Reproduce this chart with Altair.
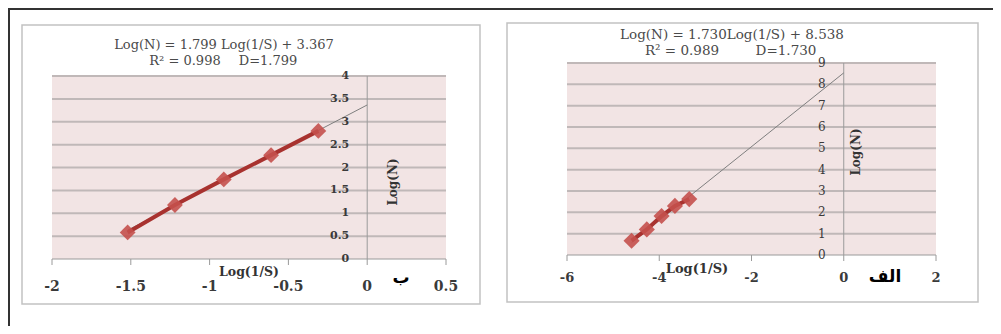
import altair as alt
import pandas as pd

# ---------------- panel "ب" (left) ----------------
b_logS = [-1.52, -1.22, -0.91, -0.61, -0.31]
b_logN = [0.58, 1.18, 1.74, 2.27, 2.80]
b_fit_x = [-1.52, 0.0]
b_fit_y = [0.63, 3.367]
b_xticks = [-2, -1.5, -1, -0.5, 0, 0.5]
b_xlabels = ["-2", "-1.5", "-1", "-0.5", "0", "0.5"]
b_yticks = [0, 0.5, 1, 1.5, 2, 2.5, 3, 3.5, 4]
b_ylabels = ["0", "0.5", "1", "1.5", "2", "2.5", "3", "3.5", "4"]
b_eq = "Log(N) = 1.799 Log(1/S) + 3.367"
b_r2 = "R² = 0.998"
b_d = "D=1.799"
b_tag = "ب"

# ---------------- panel "الف" (right) ----------------
a_logS = [-4.60, -4.27, -3.95, -3.66, -3.35]
a_logN = [0.67, 1.20, 1.83, 2.30, 2.62]
a_fit_x = [-4.60, 0.0]
a_fit_y = [0.58, 8.538]
a_xticks = [-6, -4, -2, 0, 2]
a_xlabels = ["-6", "-4", "-2", "0", "2"]
a_yticks = [0, 1, 2, 3, 4, 5, 6, 7, 8, 9]
a_ylabels = ["0", "1", "2", "3", "4", "5", "6", "7", "8", "9"]
a_eq = "Log(N) = 1.730Log(1/S) + 8.538"
a_r2 = "R² = 0.989"
a_d = "D=1.730"
a_tag = "الف"

SERIF = "DejaVu Serif"
PINK = "#f2e4e4"
GRID = "#c0b8b8"
AXIS = "#9a9a9a"
LINE_RED = "#a8322f"
MARK_RED = "#c4504d"
TXT = "#4a4a4a"

one = pd.DataFrame({"k": [0]})


def panel(xs, ys, fx, fy, xticks, xlabels, yticks, ylabels, eq, r2, d, tag, L):
    xsc = alt.Scale(domain=[xticks[0], xticks[-1]], range=L["xr"], nice=False, zero=False)
    ysc = alt.Scale(domain=[yticks[0], yticks[-1]], range=L["yr"], nice=False, zero=False)

    def X(f):
        return alt.X(f, type="quantitative", scale=xsc, axis=None)

    def Y(f):
        return alt.Y(f, type="quantitative", scale=ysc, axis=None)

    layers = []
    # outer gray box
    layers.append(
        alt.Chart(one).mark_rect(fill="white", stroke="#c2c2c2", strokeWidth=1.5).encode(
            x=alt.value(L["box"][0]), x2=alt.value(L["box"][2]),
            y=alt.value(L["box"][1]), y2=alt.value(L["box"][3]))
    )
    # plot background
    bg = pd.DataFrame({"x0": [xticks[0]], "x1": [xticks[-1]], "y0": [yticks[0]], "y1": [yticks[-1]]})
    layers.append(
        alt.Chart(bg).mark_rect(fill=PINK).encode(
            x=X("x0"), x2=alt.X2("x1"), y=Y("y0"), y2=alt.Y2("y1"))
    )
    # horizontal gridlines
    gd = pd.DataFrame({"y": yticks[1:]})
    gd["x0"] = xticks[0]
    gd["x1"] = xticks[-1]
    layers.append(
        alt.Chart(gd).mark_rule(color=GRID, strokeWidth=2).encode(
            x=X("x0"), x2=alt.X2("x1"), y=Y("y"))
    )
    # x axis line (y = 0)
    layers.append(
        alt.Chart(bg).mark_rule(color=AXIS, strokeWidth=1).encode(
            x=X("x0"), x2=alt.X2("x1"), y=Y("y0"))
    )
    # y axis line (x = 0)
    ya = pd.DataFrame({"x": [0.0], "y0": [yticks[0]], "y1": [yticks[-1]]})
    layers.append(
        alt.Chart(ya).mark_rule(color=AXIS, strokeWidth=1).encode(
            x=X("x"), y=Y("y0"), y2=alt.Y2("y1"))
    )
    # x tick marks
    xt = pd.DataFrame({"x": xticks, "lab": xlabels})
    xt["y"] = 0.0
    layers.append(
        alt.Chart(xt).mark_rule(color=AXIS, strokeWidth=1, y2Offset=6).encode(
            x=X("x"), y=Y("y"), y2=alt.Y2("y"))
    )
    # trend line
    tr = pd.DataFrame({"x": fx, "y": fy})
    layers.append(
        alt.Chart(tr).mark_line(color="#7f7f7f", strokeWidth=1).encode(x=X("x"), y=Y("y"))
    )
    # data line + markers
    dd = pd.DataFrame({"x": xs, "y": ys})
    layers.append(
        alt.Chart(dd).mark_line(color=LINE_RED, strokeWidth=4).encode(x=X("x"), y=Y("y"))
    )
    layers.append(
        alt.Chart(dd).mark_point(shape="diamond", filled=True, size=L["msize"],
                                 color=MARK_RED, opacity=0.9).encode(x=X("x"), y=Y("y"))
    )
    # x tick labels
    layers.append(
        alt.Chart(xt).mark_text(font=SERIF, fontSize=L["xfs"], fontWeight="bold", color="#3a3a3a",
                                baseline="middle", align="center", dy=L["xdy"]).encode(
            x=X("x"), y=Y("y"), text="lab:N")
    )
    # y tick labels
    yt = pd.DataFrame({"y": yticks, "lab": ylabels})
    yt["x"] = 0.0
    layers.append(
        alt.Chart(yt).mark_text(font=SERIF, fontSize=L["yfs"], fontWeight=L["yfw"], color="#3a3a3a",
                                baseline="middle", align="right", dx=-18).encode(
            x=X("x"), y=Y("y"), text="lab:N")
    )
    # equation texts
    def txt(s, x, y, **kw):
        return alt.Chart(one).mark_text(text=s, **kw).encode(x=alt.value(x), y=alt.value(y))

    layers.append(txt(eq, L["eq"][0], L["eq"][1], font=SERIF, fontSize=L["tfs"], color=TXT,
                      align="center", baseline="middle"))
    layers.append(txt(r2, L["r2"][0], L["r2"][1], font=SERIF, fontSize=L["tfs"], color=TXT,
                      align="center", baseline="middle"))
    layers.append(txt(d, L["d"][0], L["d"][1], font=SERIF, fontSize=L["tfs"], color=TXT,
                      align="center", baseline="middle"))
    # axis titles
    layers.append(txt("Log(1/S)", L["xt"][0], L["xt"][1], font=SERIF, fontSize=L["xtfs"],
                      fontWeight="bold", color="#333333", align="center", baseline="middle"))
    layers.append(txt("Log(N)", L["yt"][0], L["yt"][1], font=SERIF, fontSize=12,
                      fontWeight="bold", color="#333333", align="center", baseline="middle",
                      angle=270))
    # panel tag (Arabic)
    layers.append(txt(tag, L["tag"][0], L["tag"][1], font="DejaVu Sans", fontSize=17,
                      fontWeight="bold", color="#000000", align="center", baseline="middle"))
    return layers


LB = dict(xr=[44, 438], yr=[251, 68], box=[14, 17, 472, 296], msize=250,
          xfs=14, xdy=28, yfs=11, yfw="bold", tfs=13,
          eq=[216, 37], r2=[177, 53], d=[260, 53],
          xt=[241, 264], xtfs=12.5, yt=[385, 174], tag=[393, 270])
LA = dict(xr=[559, 928], yr=[247, 55], box=[499, 15, 970, 294], msize=260,
          xfs=13, xdy=23, yfs=12, yfw="normal", tfs=13.5,
          eq=[724, 27], r2=[674, 43], d=[778, 43],
          xt=[689, 261], xtfs=13, yt=[848, 144], tag=[877, 269])

frame = [
    alt.Chart(one).mark_rule(color="#333333", strokeWidth=2).encode(
        x=alt.value(0), x2=alt.value(985), y=alt.value(1)),
    alt.Chart(one).mark_rule(color="#333333", strokeWidth=2).encode(
        x=alt.value(1), y=alt.value(0), y2=alt.value(318)),
]

layers = frame
layers += panel(b_logS, b_logN, b_fit_x, b_fit_y, b_xticks, b_xlabels, b_yticks, b_ylabels,
                b_eq, b_r2, b_d, b_tag, LB)
layers += panel(a_logS, a_logN, a_fit_x, a_fit_y, a_xticks, a_xlabels, a_yticks, a_ylabels,
                a_eq, a_r2, a_d, a_tag, LA)

chart = (
    alt.layer(*layers)
    .resolve_scale(x="independent", y="independent")
    .properties(width=985, height=318, autosize=alt.AutoSizeParams(type="none"), padding=0,
                background="white")
    .configure_view(strokeWidth=0)
)

chart.save("out.html", embed_options={"renderer": "svg", "actions": False})
